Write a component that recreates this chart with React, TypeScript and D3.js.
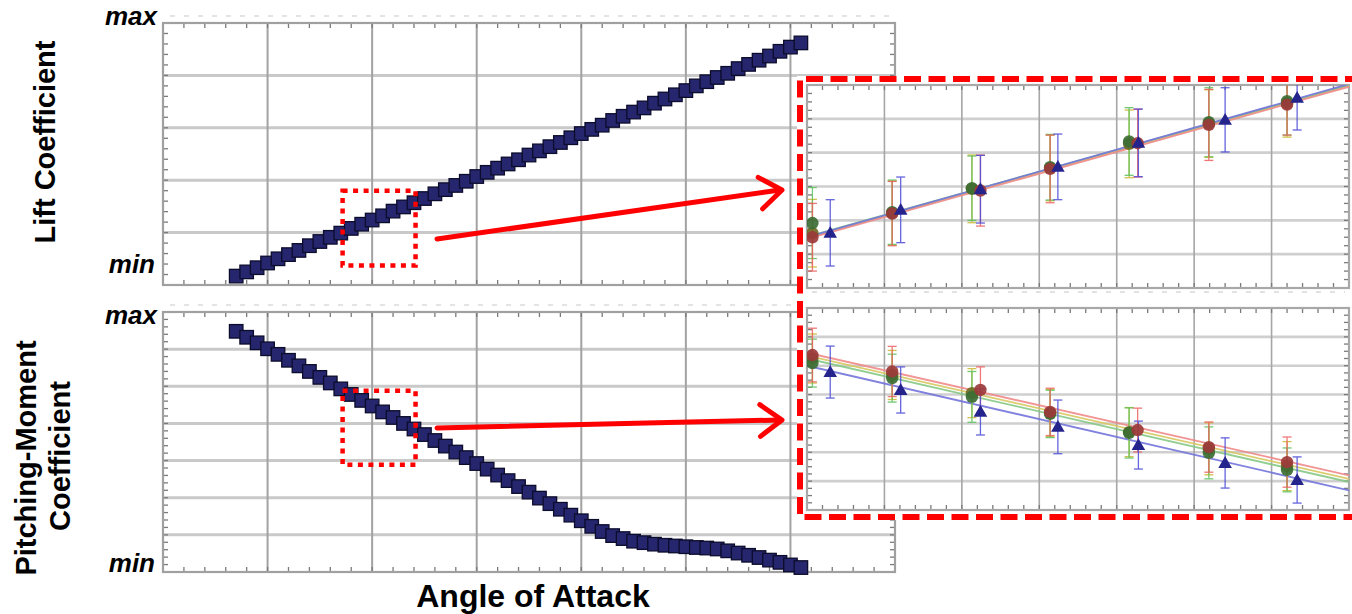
import React from "react";
import * as d3 from "d3";

// ---------------- data ----------------
// main sweep: angle of attack (arbitrary degrees) and normalised coefficients (grid units)
const alpha = [
  -5.2, -4.8, -4.4, -4.0, -3.6, -3.2, -2.8, -2.4, -2.0, -1.6, -1.2, -0.8, -0.4, 0.0,
  0.4, 0.8, 1.2, 1.6, 2.0, 2.4, 2.8, 3.2, 3.6, 4.0, 4.4, 4.8, 5.2, 5.6, 6.0, 6.4,
  6.8, 7.2, 7.6, 8.0, 8.4, 8.8, 9.2, 9.6, 10.0, 10.4, 10.8, 11.2, 11.6, 12.0, 12.4,
  12.8, 13.2, 13.6, 14.0, 14.4, 14.8, 15.2, 15.6, 16.0, 16.4,
];
const liftCoef = [
  0.17, 0.25, 0.33, 0.42, 0.5, 0.58, 0.66, 0.75, 0.83, 0.91, 0.99, 1.08, 1.16, 1.24,
  1.32, 1.41, 1.49, 1.57, 1.65, 1.74, 1.82, 1.9, 1.98, 2.07, 2.15, 2.23, 2.31, 2.39,
  2.48, 2.56, 2.64, 2.72, 2.81, 2.89, 2.97, 3.05, 3.14, 3.22, 3.3, 3.38, 3.47, 3.55,
  3.63, 3.71, 3.8, 3.88, 3.96, 4.04, 4.13, 4.21, 4.29, 4.37, 4.46, 4.54, 4.62,
];
const momentCoef = [
  6.48, 6.32, 6.17, 6.01, 5.86, 5.7, 5.55, 5.4, 5.24, 5.09, 4.93, 4.78, 4.62, 4.47,
  4.31, 4.16, 4.0, 3.85, 3.7, 3.54, 3.39, 3.23, 3.08, 2.92, 2.77, 2.61, 2.46, 2.3,
  2.15, 1.99, 1.84, 1.69, 1.53, 1.38, 1.23, 1.09, 0.98, 0.9, 0.83, 0.79, 0.75, 0.72,
  0.7, 0.68, 0.66, 0.645, 0.62, 0.57, 0.51, 0.45, 0.39, 0.32, 0.26, 0.19, 0.12,
];

const alphaGrid = [-8, -4, 0, 4, 8, 12, 16, 20];
const liftGrid = [0, 1, 2, 3, 4, 5];
const momentGrid = [0, 1, 2, 3, 4, 5, 6, 7];
const rangeLabels = ["max", "min"];
const liftTitle = "Lift Coefficient";
const momentTitle = ["Pitching-Moment", "Coefficient"];
const xTitle = "Angle of Attack";

// zoom window (in main-plot data units)
const zoomAlpha = [-1.13, 1.66];
const zoomLift = [0.37, 1.8];
const zoomMoment = [2.89, 4.88];

// zoomed panels (grid units)
const zoomGrid = [0, 1, 2, 3, 4, 5, 6, 7];
const zoomLiftGrid = [0, 1, 2, 3, 4, 5, 6];
const zoomMomentGrid = [0, 1, 2, 3, 4, 5, 6, 7];

const xRunA = [0.07, 1.1, 2.13, 3.14, 4.16, 5.19, 6.2];
const xRunB = [0.07, 1.1, 2.24, 3.14, 4.27, 5.19, 6.2];
const xRunC = [0.3, 1.21, 2.24, 3.24, 4.28, 5.4, 6.33];

const liftYellow = [1.62, 2.21, 2.93, 3.55, 4.26, 4.86, 5.46];
const liftYellowErr = [1.0, 0.95, 1.0, 0.97, 1.0, 1.0, 1.0];
const liftGreen = [1.92, 2.24, 2.95, 3.57, 4.33, 4.9, 5.52];
const liftGreenErr = [1.05, 0.95, 0.95, 0.97, 1.0, 1.02, 1.0];
const liftRed = [1.5, 2.2, 2.88, 3.52, 4.28, 4.82, 5.42];
const liftRedErr = [1.0, 0.95, 1.05, 1.0, 1.0, 1.05, 0.9];
const liftBlue = [1.63, 2.31, 2.92, 3.58, 4.29, 4.97, 5.62];
const liftBlueErr = [0.98, 0.97, 1.0, 0.97, 1.0, 0.95, 0.95];
const liftFits = { yellow: [1.48, 5.98], green: [1.52, 6.0], red: [1.45, 5.95], blue: [1.5, 6.03] };

const momYellow = [5.25, 4.68, 4.05, 3.36, 2.7, 2.12, 1.52];
const momYellowErr = [0.85, 0.85, 0.85, 0.82, 0.85, 0.9, 0.85];
const momGreen = [5.09, 4.57, 3.92, 3.33, 2.67, 1.98, 1.39];
const momGreenErr = [0.83, 0.83, 0.88, 0.82, 0.87, 0.9, 0.76];
const momRed = [5.37, 4.8, 4.16, 3.4, 2.77, 2.18, 1.66];
const momRedErr = [0.93, 0.87, 0.8, 0.82, 0.76, 0.87, 0.87];
const momBlue = [4.78, 4.16, 3.4, 2.88, 2.25, 1.63, 1.04];
const momBlueErr = [0.9, 0.8, 0.8, 0.93, 0.83, 0.87, 0.8];
const momFits = { yellow: [5.35, 1.08], green: [5.25, 0.97], red: [5.45, 1.2], blue: [5.0, 0.68] };

// ---------------- styles ----------------
const RED = "#ff0000";
const FONT = "'Liberation Sans', Arial, sans-serif";
const seriesStyle: Record<string, { line: string; err: string; fill: string; shape: string }> = {
  yellow: { line: "#d8c860", err: "#c8b830", fill: "#6e6a22", shape: "circle" },
  green: { line: "#86c986", err: "#5cc05c", fill: "#3c6e34", shape: "circle" },
  red: { line: "#f08a8a", err: "#ee6060", fill: "#9c3a3a", shape: "circle" },
  blue: { line: "#7474dc", err: "#4a4ad8", fill: "#24248c", shape: "triangle" },
};

// ---------------- helpers ----------------
function Frame({ x, y, xMajor, xMinorStep, yMajor, yMinorStep, hColor, vColor, hWidth, vWidth, frameColor }: any) {
  const [x0, x1] = x.range();
  const [y0, y1] = y.range(); // y0 bottom, y1 top
  const xd = x.domain();
  const yd = y.domain();
  const xMinor = d3.range(xd[0], xd[1] + 1e-6, xMinorStep);
  const yMinor = d3.range(yd[0], yd[1] + 1e-6, yMinorStep);
  const tl = 5;
  return (
    <g>
      {yMajor.slice(1, -1).map((v: number) => (
        <line key={"h" + v} x1={x0} x2={x1} y1={y(v)} y2={y(v)} stroke={hColor} strokeWidth={hWidth} />
      ))}
      {xMajor.slice(1, -1).map((v: number) => (
        <line key={"v" + v} x1={x(v)} x2={x(v)} y1={y0} y2={y1} stroke={vColor} strokeWidth={vWidth} />
      ))}
      {xMinor.map((v: number, i: number) => (
        <g key={"xt" + i}>
          <line x1={x(v)} x2={x(v)} y1={y1} y2={y1 + tl} stroke="#7a7a7a" strokeWidth={1.3} />
          <line x1={x(v)} x2={x(v)} y1={y0} y2={y0 - tl} stroke="#7a7a7a" strokeWidth={1.3} />
        </g>
      ))}
      {yMinor.map((v: number, i: number) => (
        <g key={"yt" + i}>
          <line x1={x0} x2={x0 + tl} y1={y(v)} y2={y(v)} stroke="#7a7a7a" strokeWidth={1.3} />
          <line x1={x1} x2={x1 - tl} y1={y(v)} y2={y(v)} stroke="#7a7a7a" strokeWidth={1.3} />
        </g>
      ))}
      <rect x={x0} y={y1} width={x1 - x0} height={y0 - y1} fill="none" stroke={frameColor} strokeWidth={2.2} />
    </g>
  );
}

function Arrow({ from, to }: { from: [number, number]; to: [number, number] }) {
  const ang = Math.atan2(to[1] - from[1], to[0] - from[0]);
  const len = 27;
  const spread = (36 * Math.PI) / 180;
  const p1 = [to[0] - len * Math.cos(ang - spread), to[1] - len * Math.sin(ang - spread)];
  const p2 = [to[0] - len * Math.cos(ang + spread), to[1] - len * Math.sin(ang + spread)];
  return (
    <g stroke={RED} strokeWidth={5} fill="none" strokeLinecap="round" strokeLinejoin="round">
      <line x1={from[0]} y1={from[1]} x2={to[0] - 2} y2={to[1]} />
      <polyline points={`${p1[0]},${p1[1]} ${to[0]},${to[1]} ${p2[0]},${p2[1]}`} />
    </g>
  );
}

function ZoomPanel({ id, x, y, grid, yGrid, series }: any) {
  const [x0, x1] = x.range();
  const [y0, y1] = y.range();
  const tri = d3.symbol().type(d3.symbolTriangle).size(80)();
  const xd = x.domain();
  return (
    <g>
      <defs>
        <clipPath id={id}>
          <rect x={x0} y={y1} width={x1 - x0} height={y0 - y1} />
        </clipPath>
      </defs>
      <rect x={x0} y={y1} width={x1 - x0} height={y0 - y1} fill="#fff" />
      <Frame x={x} y={y} xMajor={grid} xMinorStep={0.2} yMajor={yGrid} yMinorStep={0.25}
        hColor="#cfcfcf" vColor="#a6a6a6" hWidth={2.6} vWidth={1.6} frameColor="#a8a8a8" />
      <g clipPath={`url(#${id})`}>
        {series.map((s: any) => (
          <line key={"fit" + s.key} x1={x(xd[0])} x2={x(xd[1])} y1={y(s.fit[0])} y2={y(s.fit[1])}
            stroke={seriesStyle[s.key].line} strokeWidth={1.8} opacity={0.9} />
        ))}
        {series.map((s: any) =>
          s.y.map((v: number, i: number) => {
            const cx = x(s.x[i]);
            const top = y(v + s.err[i]);
            const bot = y(v - s.err[i]);
            const c = seriesStyle[s.key].err;
            return (
              <g key={"e" + s.key + i} stroke={c} strokeWidth={1.3} opacity={0.85}>
                <line x1={cx} x2={cx} y1={top} y2={bot} />
                <line x1={cx - 4.5} x2={cx + 4.5} y1={top} y2={top} />
                <line x1={cx - 4.5} x2={cx + 4.5} y1={bot} y2={bot} />
              </g>
            );
          })
        )}
        {series.map((s: any) =>
          s.y.map((v: number, i: number) => {
            const st = seriesStyle[s.key];
            const cx = x(s.x[i]);
            const cy = y(v);
            return st.shape === "circle" ? (
              <circle key={"m" + s.key + i} cx={cx} cy={cy} r={6.2} fill={st.fill} opacity={0.92} />
            ) : (
              <path key={"m" + s.key + i} d={tri as string} transform={`translate(${cx},${cy + 1})`} fill={st.fill} />
            );
          })
        )}
      </g>
    </g>
  );
}

export default function App() {
  const W = 1352;
  const H = 614;

  const xMain = d3.scaleLinear().domain([alphaGrid[0], alphaGrid[alphaGrid.length - 1]]).range([163, 895]);
  const yLift = d3.scaleLinear().domain([liftGrid[0], liftGrid[liftGrid.length - 1]]).range([285, 23]);
  const yMom = d3.scaleLinear().domain([momentGrid[0], momentGrid[momentGrid.length - 1]]).range([572, 312]);

  const xZoom = d3.scaleLinear().domain([zoomGrid[0], zoomGrid[zoomGrid.length - 1]]).range([807, 1349]);
  const yZoomLift = d3.scaleLinear().domain([zoomLiftGrid[0], zoomLiftGrid[zoomLiftGrid.length - 1]]).range([288, 85]);
  const yZoomMom = d3.scaleLinear().domain([zoomMomentGrid[0], zoomMomentGrid[zoomMomentGrid.length - 1]]).range([510, 308]);

  const liftSeries = [
    { key: "yellow", x: xRunA, y: liftYellow, err: liftYellowErr, fit: liftFits.yellow },
    { key: "green", x: xRunA, y: liftGreen, err: liftGreenErr, fit: liftFits.green },
    { key: "red", x: xRunB, y: liftRed, err: liftRedErr, fit: liftFits.red },
    { key: "blue", x: xRunC, y: liftBlue, err: liftBlueErr, fit: liftFits.blue },
  ];
  const momSeries = [
    { key: "yellow", x: xRunA, y: momYellow, err: momYellowErr, fit: momFits.yellow },
    { key: "green", x: xRunA, y: momGreen, err: momGreenErr, fit: momFits.green },
    { key: "red", x: xRunB, y: momRed, err: momRedErr, fit: momFits.red },
    { key: "blue", x: xRunC, y: momBlue, err: momBlueErr, fit: momFits.blue },
  ];

  const sq = 13.5;
  const markerFill = "#26266e";
  const markerStroke = "#0c0c2c";

  const zoomRect = (yS: any, yr: number[]) => ({
    x: xMain(zoomAlpha[0]),
    y: yS(yr[1]),
    w: xMain(zoomAlpha[1]) - xMain(zoomAlpha[0]),
    h: yS(yr[0]) - yS(yr[1]),
  });
  const zrTop = zoomRect(yLift, zoomLift);
  const zrBot = zoomRect(yMom, zoomMoment);

  return (
    <svg width={W} height={H} viewBox={`0 0 ${W} ${H}`}
      style={{ position: "absolute", left: 0, top: 0, display: "block", background: "#fff" }}>
      <rect x={0} y={0} width={W} height={H} fill="#fff" />

      {/* faint remnants of cropped tick labels */}
      <line x1={170} x2={890} y1={16} y2={16} stroke="#e4e4e4" strokeWidth={2} strokeDasharray="5 9" />
      <line x1={170} x2={890} y1={305} y2={305} stroke="#e4e4e4" strokeWidth={2} strokeDasharray="5 9" />

      {/* top-left: lift */}
      <Frame x={xMain} y={yLift} xMajor={alphaGrid} xMinorStep={0.8} yMajor={liftGrid} yMinorStep={0.2}
        hColor="#c9c9c9" vColor="#a2a2a2" hWidth={3} vWidth={2} frameColor="#a0a0a0" />
      <g>
        {alpha.map((a, i) => (
          <rect key={"l" + i} x={xMain(a) - sq / 2} y={yLift(liftCoef[i]) - sq / 2} width={sq} height={sq}
            fill={markerFill} stroke={markerStroke} strokeWidth={1.3} />
        ))}
      </g>

      {/* bottom-left: pitching moment */}
      <Frame x={xMain} y={yMom} xMajor={alphaGrid} xMinorStep={0.8} yMajor={momentGrid} yMinorStep={0.2}
        hColor="#c9c9c9" vColor="#a2a2a2" hWidth={3} vWidth={2} frameColor="#a0a0a0" />
      <g>
        {alpha.map((a, i) => (
          <rect key={"m" + i} x={xMain(a) - sq / 2} y={yMom(momentCoef[i]) - sq / 2} width={sq} height={sq}
            fill={markerFill} stroke={markerStroke} strokeWidth={1.3} />
        ))}
      </g>

      {/* dotted zoom windows */}
      <rect x={zrTop.x} y={zrTop.y} width={zrTop.w} height={zrTop.h} fill="none" stroke={RED}
        strokeWidth={4.5} strokeDasharray="5 5.5" />
      <rect x={zrBot.x} y={zrBot.y} width={zrBot.w} height={zrBot.h} fill="none" stroke={RED}
        strokeWidth={4.5} strokeDasharray="5 5.5" />

      {/* zoomed panels overlay */}
      <rect x={797} y={76} width={W - 797} height={444} fill="#fff" />
      <line x1={812} x2={1345} y1={292} y2={292} stroke="#e2e2e2" strokeWidth={2} strokeDasharray="5 9" />
      <ZoomPanel id="clipTop" x={xZoom} y={yZoomLift} grid={zoomGrid} yGrid={zoomLiftGrid} series={liftSeries} />
      <ZoomPanel id="clipBot" x={xZoom} y={yZoomMom} grid={zoomGrid} yGrid={zoomMomentGrid} series={momSeries} />
      <path d={`M${W + 10},79 H800 V517 H${W + 10}`} fill="none" stroke={RED} strokeWidth={6}
        strokeDasharray="17 7.5" />

      {/* arrows */}
      <Arrow from={[437, 239]} to={[782, 190]} />
      <Arrow from={[437, 428]} to={[782, 420]} />

      {/* texts */}
      <g fontFamily={FONT} fontWeight="bold" fill="#000">
        <text x={157} y={25} fontSize={26} fontStyle="italic" textAnchor="end">{rangeLabels[0]}</text>
        <text x={155} y={273} fontSize={26} fontStyle="italic" textAnchor="end">{rangeLabels[1]}</text>
        <text x={157} y={324} fontSize={26} fontStyle="italic" textAnchor="end">{rangeLabels[0]}</text>
        <text x={155} y={572} fontSize={26} fontStyle="italic" textAnchor="end">{rangeLabels[1]}</text>
        <text transform="translate(55,142) rotate(-90)" fontSize={29} textAnchor="middle">{liftTitle}</text>
        <text transform="translate(36,458) rotate(-90)" fontSize={29} textAnchor="middle">{momentTitle[0]}</text>
        <text transform="translate(70,456) rotate(-90)" fontSize={29} textAnchor="middle">{momentTitle[1]}</text>
        <text x={533} y={607} fontSize={32} textAnchor="middle">{xTitle}</text>
      </g>
    </svg>
  );
}
